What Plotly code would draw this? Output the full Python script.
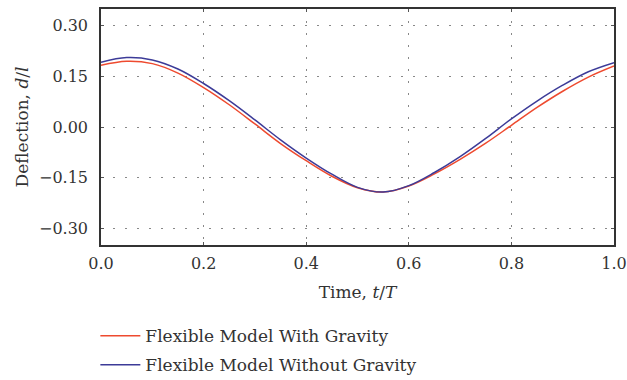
import plotly.graph_objects as go

t = [0.00, 0.05, 0.10, 0.15, 0.20, 0.25, 0.30, 0.35, 0.40, 0.45, 0.50,
     0.55, 0.60, 0.65, 0.70, 0.75, 0.80, 0.85, 0.90, 0.95, 1.00]
with_gravity = [0.183, 0.195, 0.188, 0.160, 0.117, 0.066, 0.009, -0.049, -0.100, -0.146, -0.180,
                -0.193, -0.175, -0.139, -0.096, -0.048, 0.005, 0.058, 0.106, 0.148, 0.181]
without_gravity = [0.192, 0.206, 0.199, 0.172, 0.129, 0.078, 0.021, -0.038, -0.092, -0.140, -0.179,
                   -0.193, -0.174, -0.135, -0.088, -0.034, 0.024, 0.077, 0.124, 0.164, 0.191]
x_ticks = [0.0, 0.2, 0.4, 0.6, 0.8, 1.0]
y_ticks = [-0.30, -0.15, 0.00, 0.15, 0.30]

FONT = "DejaVu Serif"
TXT = "#333333"

fig = go.Figure()
fig.add_trace(go.Scatter(x=t, y=with_gravity, mode="lines", line_shape="spline",
                         name="Flexible Model With Gravity", legendgroup="a",
                         line=dict(color="#ee4a2f", width=1.5)))
fig.add_trace(go.Scatter(x=t, y=without_gravity, mode="lines", line_shape="spline",
                         name="Flexible Model Without Gravity", legendgroup="b",
                         line=dict(color="#3c3b98", width=1.5)))

axis_common = dict(
    showline=True, linecolor="#333333", linewidth=1.5, mirror="ticks",
    ticks="inside", ticklen=3, tickcolor="#555555",
    showgrid=True, gridcolor="#888888", gridwidth=1, griddash="2px,10px",
    zeroline=False, tickfont=dict(family=FONT, size=16, color=TXT),
    automargin=False, ticklabeloverflow="allow",
)

fig.update_xaxes(range=[0, 1], tickvals=x_ticks, ticktext=[f"{v:.1f}" for v in x_ticks],
                 ticklabelstandoff=3,
                 title=dict(text="Time, <i>t</i>/<i>T</i>", font=dict(family=FONT, size=17, color=TXT),
                            standoff=14),
                 **axis_common)
fig.update_yaxes(range=[-0.35, 0.35], tickvals=y_ticks,
                 ticktext=["\u22120.30", "\u22120.15", "0.00", "0.15", "0.30"],
                 ticklabelstandoff=8,
                 title=dict(text="Deflection, <i>d</i>/<i>l</i>", font=dict(family=FONT, size=17, color=TXT),
                            standoff=6),
                 **axis_common)

fig.update_layout(
    width=627, height=380,
    margin=dict(l=101, r=13, t=9, b=135, autoexpand=False),
    paper_bgcolor="white", plot_bgcolor="white",
    showlegend=True,
    legend=dict(x=-0.011, y=-0.31, xanchor="left", yanchor="top",
                font=dict(family=FONT, size=17, color=TXT),
                bgcolor="rgba(0,0,0,0)", tracegroupgap=4, itemwidth=40,
                traceorder="grouped"),
)

fig.write_html("out.html", config={"displayModeBar": False},
               post_script="document.body.style.margin='0';document.body.style.padding='0';")
